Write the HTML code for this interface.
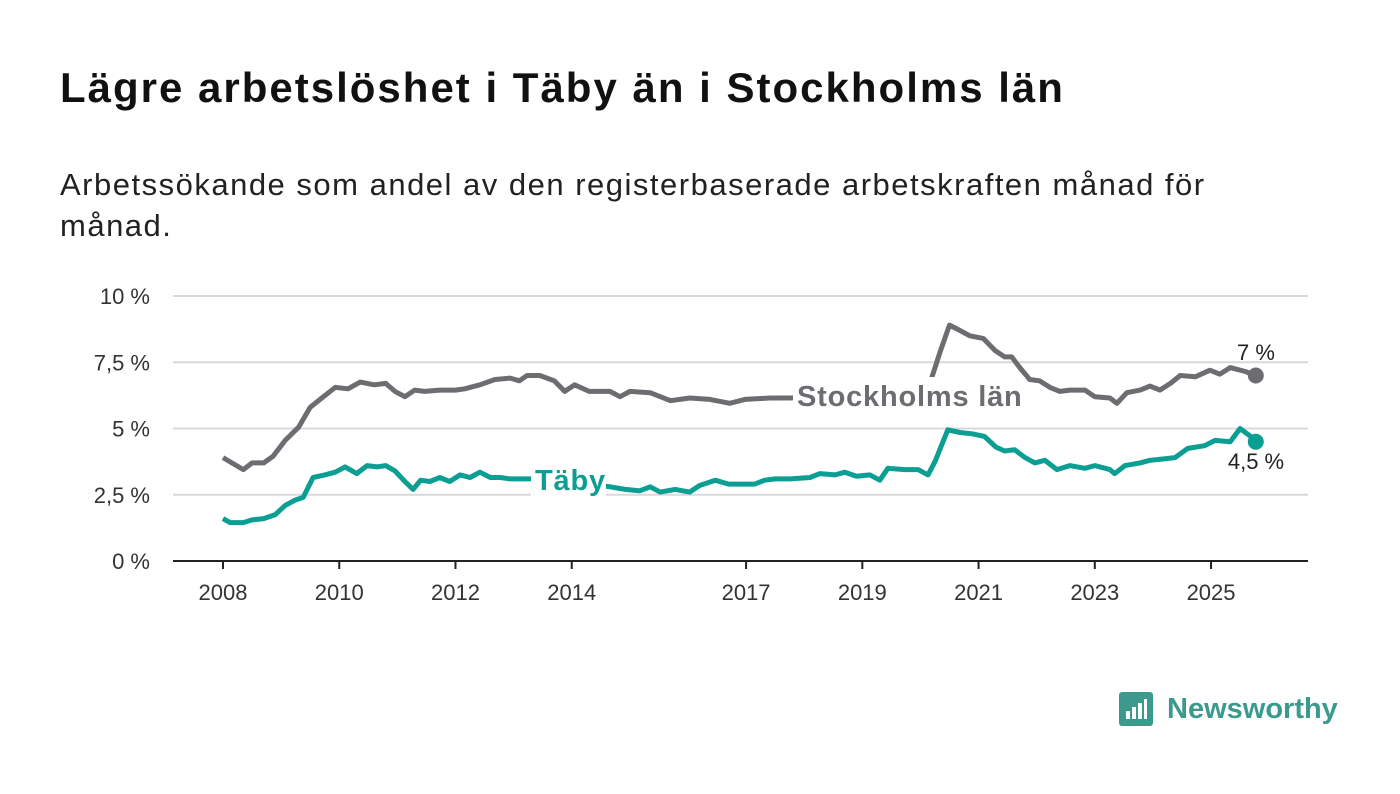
<!DOCTYPE html>
<html><head><meta charset="utf-8"><style>
body{margin:0;width:1400px;height:794px;background:#fff;font-family:"Liberation Sans",sans-serif;overflow:hidden;position:relative}
h1{position:absolute;left:60px;top:64px;margin:0;font-size:42px;font-weight:bold;color:#111;letter-spacing:2.0px;white-space:nowrap}
p{position:absolute;left:60px;top:164px;margin:0;font-size:31px;line-height:41px;color:#222;width:1190px;letter-spacing:1.5px}
svg{position:absolute;left:0;top:0}
</style></head><body>
<h1>Lägre arbetslöshet i Täby än i Stockholms län</h1>
<p>Arbetssökande som andel av den registerbaserade arbetskraften månad för månad.</p>
<svg id="chart" width="1400" height="794"></svg>
<div style="position:absolute;left:1119px;top:692px;display:flex;align-items:center">
<div style="width:34px;height:34px;background:#3a9a8e;border-radius:3px;position:relative"><div style="position:absolute;left:7px;bottom:7px;width:4px;height:8px;background:#fff"></div><div style="position:absolute;left:13px;bottom:7px;width:4px;height:12px;background:#fff"></div><div style="position:absolute;left:19px;bottom:7px;width:4px;height:16px;background:#fff"></div><div style="position:absolute;left:25px;bottom:7px;width:3px;height:20px;background:#fff"></div></div>
<span style="font-size:29px;font-weight:bold;color:#3a9a8e;margin-left:14px">Newsworthy</span></div>
<script>
const yTicks=[0,2.5,5,7.5,10];
const yTickLabels=["0 %","2,5 %","5 %","7,5 %","10 %"];
const xTicks=[2008,2010,2012,2014,2017,2019,2021,2023,2025];
const sthlmYears=[2008,2008.35,2008.5,2008.7,2008.86,2009.07,2009.3,2009.5,2009.7,2009.93,2010.15,2010.36,2010.6,2010.8,2010.96,2011.13,2011.3,2011.47,2011.73,2012,2012.16,2012.42,2012.68,2012.94,2013.1,2013.23,2013.45,2013.7,2013.88,2014.05,2014.3,2014.66,2014.83,2015,2015.35,2015.7,2016.03,2016.38,2016.72,2016.98,2017.41,2017.76,2018.3,2018.9,2019.5,2020.0,2020.17,2020.34,2020.5,2020.68,2020.85,2021.08,2021.28,2021.45,2021.57,2021.71,2021.88,2022.05,2022.23,2022.4,2022.57,2022.83,2023,2023.26,2023.38,2023.55,2023.78,2023.95,2024.12,2024.3,2024.47,2024.73,2024.98,2025.15,2025.33,2025.59,2025.77];
const sthlmValues=[3.9,3.45,3.7,3.7,3.95,4.55,5.05,5.8,6.15,6.55,6.5,6.75,6.65,6.7,6.4,6.2,6.45,6.4,6.45,6.45,6.5,6.65,6.85,6.9,6.8,7.0,7.0,6.8,6.4,6.65,6.4,6.4,6.2,6.4,6.35,6.05,6.15,6.1,5.95,6.1,6.15,6.15,6.2,6.3,6.4,6.4,6.75,7.9,8.9,8.7,8.5,8.4,7.95,7.7,7.7,7.3,6.85,6.8,6.55,6.4,6.45,6.45,6.2,6.15,5.95,6.35,6.45,6.6,6.45,6.7,7.0,6.95,7.2,7.05,7.3,7.15,7.0];
const tabyYears=[2008,2008.12,2008.35,2008.5,2008.7,2008.9,2009.07,2009.24,2009.38,2009.55,2009.75,2009.93,2010.1,2010.3,2010.48,2010.65,2010.8,2010.96,2011.13,2011.27,2011.4,2011.56,2011.73,2011.9,2012.08,2012.25,2012.42,2012.6,2012.77,2012.94,2013.3,2013.8,2014.3,2014.66,2014.92,2015.17,2015.35,2015.52,2015.78,2016.03,2016.2,2016.47,2016.7,2016.98,2017.15,2017.32,2017.5,2017.76,2018.1,2018.27,2018.53,2018.7,2018.9,2019.13,2019.3,2019.44,2019.73,2019.96,2020.13,2020.25,2020.47,2020.68,2020.89,2021.1,2021.3,2021.45,2021.62,2021.8,2021.97,2022.14,2022.35,2022.57,2022.83,2023,2023.26,2023.34,2023.52,2023.78,2023.95,2024.17,2024.38,2024.6,2024.89,2025.07,2025.33,2025.5,2025.68,2025.77];
const tabyValues=[1.6,1.45,1.45,1.55,1.6,1.75,2.1,2.3,2.4,3.15,3.25,3.35,3.55,3.3,3.6,3.55,3.6,3.4,3.0,2.7,3.05,3.0,3.15,3.0,3.25,3.15,3.35,3.15,3.15,3.1,3.1,3.0,2.9,2.8,2.7,2.65,2.8,2.6,2.7,2.6,2.85,3.05,2.9,2.9,2.9,3.05,3.1,3.1,3.15,3.3,3.25,3.35,3.2,3.25,3.05,3.5,3.45,3.45,3.25,3.75,4.95,4.85,4.8,4.7,4.3,4.15,4.2,3.9,3.7,3.8,3.45,3.6,3.5,3.6,3.45,3.3,3.6,3.7,3.8,3.85,3.9,4.25,4.35,4.55,4.5,5.0,4.7,4.5];
const NS="http://www.w3.org/2000/svg";
const svg=document.getElementById('chart');
const X0=173,X1=1308,Y0=561,Y1=296;
function xs(y){return 223+(y-2008)*58.12;}
function ys(v){return Y0-(v/10)*(Y0-Y1);}
function mk(tag,attrs){const e=document.createElementNS(NS,tag);for(const k in attrs)e.setAttribute(k,attrs[k]);svg.appendChild(e);return e;}
yTicks.forEach((t,i)=>{
 const g=mk('line',{x1:X0,x2:X1,y1:ys(t),y2:ys(t),stroke:i==0?'#222':'#d9d9d9','stroke-width':2});
 
 
 const tx=mk('text',{x:150,y:ys(t)+8,'text-anchor':'end','font-size':22,fill:'#333'});
 tx.textContent=yTickLabels[i];
 
 
});
xTicks.forEach(t=>{
 const l=mk('line',{x1:xs(t),x2:xs(t),y1:Y0,y2:Y0+8,stroke:'#222','stroke-width':2});
 
 
 const tx=mk('text',{x:xs(t),y:600,'text-anchor':'middle','font-size':22,fill:'#333'});
 tx.textContent=t;
 
 
});
function series(yrs,vals,color,name){
 const d=yrs.map((y,i)=>(i?'L':'M')+xs(y).toFixed(1)+','+ys(vals[i]).toFixed(1)).join('');
 const p=mk('path',{d:d,fill:'none',stroke:color,'stroke-width':5,'stroke-linejoin':'round'});
 
 
 const n=yrs.length-1;
 const c=mk('circle',{cx:xs(yrs[n]),cy:ys(vals[n]),r:8,fill:color});
 
 
}
series(sthlmYears,sthlmValues,'#6d6c70','stockholm');
series(tabyYears,tabyValues,'#0a9f92','taby');
function label(x,y,txt,color,size,w,name,bg){
 if(bg){const r=mk('rect',{x:x-4,y:y-size,width:w,height:size+8,fill:'#fff'});}
 const t=mk('text',{x:x,y:y,'font-size':size,fill:color,'font-weight':'bold','letter-spacing':0.8});
 t.textContent=txt;
 
 
}
label(797,406,'Stockholms län','#6d6c70',29,232,'stockholm-label',true);
label(535,490,'Täby','#0a9f92',29,75,'taby-label',true);
const l1=mk('text',{x:1256,y:360,'text-anchor':'middle','font-size':22,fill:'#222'});l1.textContent='7 %';


const l2=mk('text',{x:1256,y:469,'text-anchor':'middle','font-size':22,fill:'#222'});l2.textContent='4,5 %';


</script>
</body></html>
